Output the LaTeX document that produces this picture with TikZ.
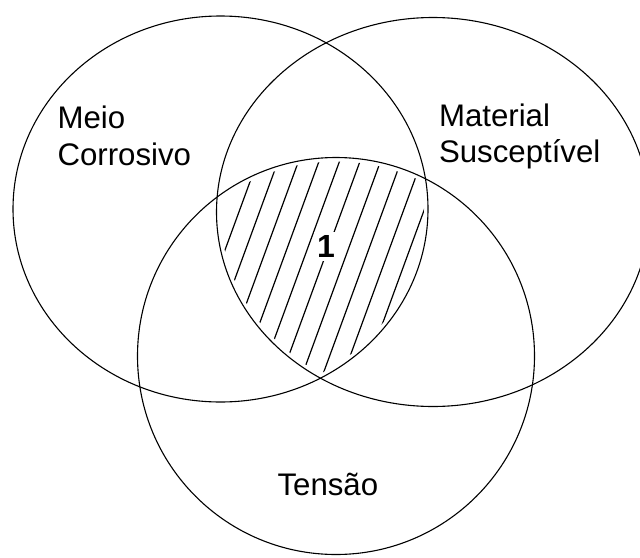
\documentclass[tikz,border=0pt]{standalone}
\usepackage{fontspec}
\setmainfont{Liberation Sans}

\begin{document}
\begin{tikzpicture}[x=1pt, y=-1pt, line width=1.1pt,
        lbl/.style={font=\fontsize{31.2}{36.5}\selectfont, align=left, inner sep=0pt},
        hatch/.style={line width=1.2pt},
        ring/.style={draw=black, line width=1.1pt}]
        \useasboundingbox (0,0) rectangle (640,557);
        \begin{scope}
          \clip (220.5,209) ellipse [x radius=203.5, y radius=189];
          \clip (433,212) ellipse [x radius=212.5, y radius=190.5];
          \clip (336,356) circle [radius=194.5];
          \foreach \k in {0,...,9}
            \draw[hatch] ({280+20.5*\k},100) -- ({170+20.5*\k},400);
        \end{scope}
        \node[font=\bfseries\fontsize{32}{36}\selectfont, fill=white, inner sep=3pt] (um) at (326,246.5) {1};
        \draw[ring] (220.5,209) ellipse [x radius=207.5, y radius=193];
        \draw[ring] (433,212) ellipse [x radius=216.5, y radius=194.5];
        \draw[ring] (336,356) circle [radius=198.5];
        \node[lbl, anchor=north west] (meio) at (57,105.5) {Meio\\Corrosivo};
        \node[lbl, anchor=north west] (mat) at (438.5,103) {Material\\Susceptível};
        \node[lbl, anchor=base west] (tens) at (277,495.5) {Tensão};
      \end{tikzpicture}
\end{document}
